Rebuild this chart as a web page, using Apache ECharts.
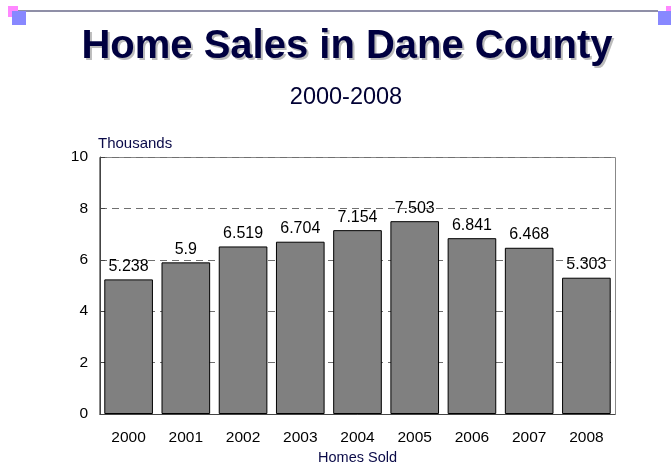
<!DOCTYPE html>
<html>
<head>
<meta charset="utf-8">
<title>Home Sales in Dane County</title>
<script src="https://cdn.jsdelivr.net/npm/echarts@6/dist/echarts.min.js"></script>
<style>
  html, body { margin: 0; padding: 0; background: #fff; }
  #chart { width: 671px; height: 468px; }
</style>
</head>
<body>
<div id="chart"></div>
<script>
// 年份与销量（千套）
const years = ["2000", "2001", "2002", "2003", "2004", "2005", "2006", "2007", "2008"];
const homesSold = [5.238, 5.9, 6.519, 6.704, 7.154, 7.503, 6.841, 6.468, 5.303];
const yTicks = [0, 2, 4, 6, 8, 10];

const chart = echarts.init(document.getElementById("chart"));
const navy = "#0a0a48";
const titleText = "Home Sales in Dane County";
const titleFont = {
  fontFamily: "Liberation Sans",
  fontSize: 40,
  fontWeight: "bold",
};

chart.setOption({
  backgroundColor: "#fff",
  animation: false,
  title: [
    {
      // 阴影
      text: titleText,
      left: 344,
      top: 24,
      textAlign: "center",
      textStyle: Object.assign({ color: "#bcbcbc" }, titleFont),
    },
    {
      text: titleText,
      left: 342,
      top: 22,
      textAlign: "center",
      textStyle: Object.assign({ color: "#000040" }, titleFont),
    },
    {
      text: "2000-2008",
      left: 341,
      top: 81,
      textAlign: "center",
      textStyle: {
        fontFamily: "Liberation Sans",
        fontSize: 23.5,
        fontWeight: "normal",
        color: "#000033",
      },
    },
  ],
  graphic: [
    { type: "line", shape: { x1: 18, y1: 11, x2: 658, y2: 11 }, style: { stroke: "#6a6a8a", lineWidth: 1.6 } },
    { type: "rect", shape: { x: 8, y: 6, width: 10, height: 11 }, style: { fill: "#ff88ff" } },
    { type: "rect", shape: { x: 12, y: 11, width: 14, height: 14 }, style: { fill: "#8888ff" } },
    { type: "rect", shape: { x: 666, y: 6, width: 5, height: 5 }, style: { fill: "#ff88ff" } },
    { type: "rect", shape: { x: 658, y: 11, width: 13, height: 14 }, style: { fill: "#8888ff" } },
    {
      type: "rect",
      shape: { x: 99.5, y: 157.5, width: 516, height: 257 },
      style: { fill: "none", stroke: "#888", lineWidth: 1 },
      z: 0,
    },
  ],
  grid: { left: 100, right: 56, top: 157, bottom: 54, outerBoundsMode: "none" },
  xAxis: {
    type: "category",
    data: years,
    name: "Homes Sold",
    nameLocation: "middle",
    nameGap: 34,
    nameTextStyle: { fontFamily: "Liberation Sans", fontSize: 14.5, color: navy },
    axisLine: { lineStyle: { color: "#444", width: 1 } },
    axisTick: { show: false },
    axisLabel: { fontFamily: "Liberation Sans", fontSize: 15.5, color: "#000", margin: 16 },
  },
  yAxis: {
    type: "value",
    min: 0,
    max: 10,
    interval: 2,
    name: "Thousands",
    nameLocation: "end",
    nameGap: 6,
    nameTextStyle: { fontFamily: "Liberation Sans", fontSize: 15, color: navy, align: "left", padding: [0, 0, 0, -2] },
    axisLine: { show: true, lineStyle: { color: "#444", width: 1 } },
    axisTick: { show: true, inside: true, length: 5, lineStyle: { color: "#444" } },
    axisLabel: {
      fontFamily: "Liberation Sans",
      fontSize: 15.5,
      color: "#000",
      margin: 12,
      formatter: (v) => (yTicks.includes(v) ? String(v) : ""),
    },
    splitLine: { show: true, lineStyle: { color: "#707070", type: [7, 5], width: 1 } },
  },
  series: [
    {
      type: "bar",
      data: homesSold,
      barWidth: "85%",
      itemStyle: { color: "#808080", borderColor: "#000", borderWidth: 1 },
      label: {
        show: true,
        position: "top",
        distance: 5,
        fontFamily: "Liberation Sans",
        fontSize: 16,
        color: "#000",
      },
      z: 2,
    },
  ],
});

window.addEventListener("resize", () => chart.resize());
</script>
</body>
</html>
